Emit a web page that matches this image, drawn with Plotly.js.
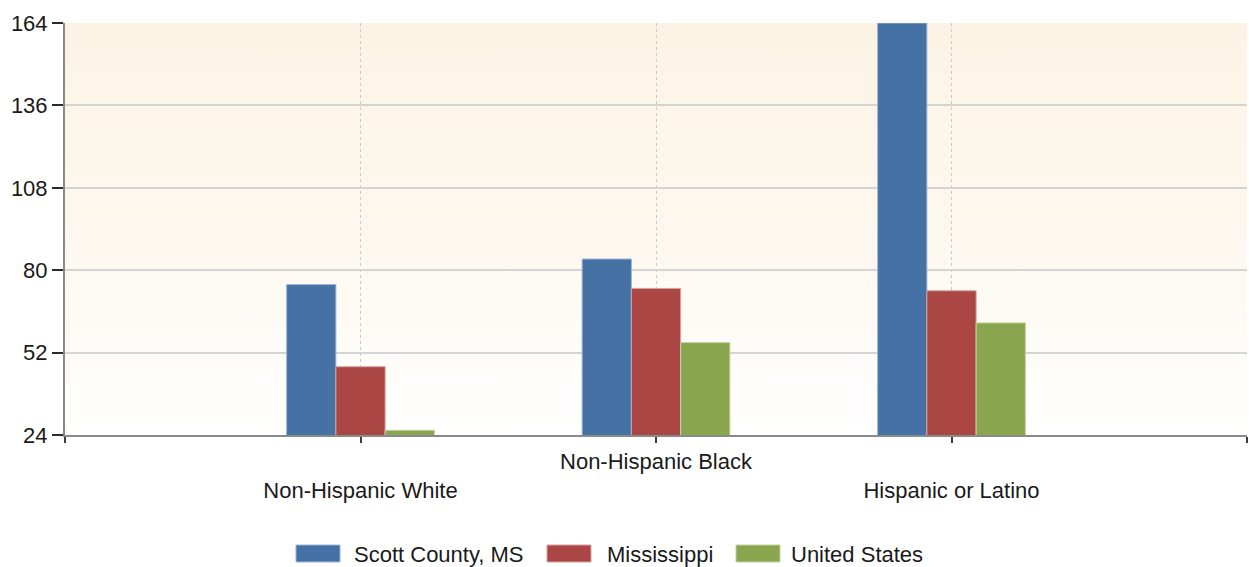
<!DOCTYPE html>
<html>
<head>
<meta charset="utf-8">
<script src="https://cdn.plot.ly/plotly-3.0.1.min.js"></script>
<style>
  html, body { margin: 0; padding: 0; background: #ffffff; }
  #wrap { position: relative; width: 1249px; height: 567px; }
  #bg { position: absolute; left: 65px; top: 23px; width: 1182px; height: 412px;
        background: linear-gradient(to bottom, #fcf3e4 0%, #fdf8ef 50%, #ffffff 100%); }
  #chart { position: absolute; left: 0; top: 0; width: 1249px; height: 567px; }
</style>
</head>
<body>
<div id="wrap"><div id="bg"></div><div id="chart"></div></div>
<script>
// Data
const categories = ["Non-Hispanic White", "Non-Hispanic Black", "Hispanic or Latino"];
const seriesNames = ["Scott County, MS", "Mississippi", "United States"];
const scottCounty = [75.1, 83.8, 164];
const mississippi = [47.2, 73.8, 73.0];
const unitedStates = [25.6, 55.4, 62.1];
const yTicks = [24, 52, 80, 108, 136, 164];

const colors = ["#4571a5", "#aa4643", "#89a54e"];
const edges = ["#9db4d2", "#d4a3a1", "#c4d2a6"];

// categories placed at positions 1..n on a numeric axis (staggered labels)
const xPos = categories.map((c, i) => i + 1);
const tickVals = [0].concat(xPos, [categories.length + 1]);
const tickText = [""].concat(categories.map((c, i) => (i % 2 === 0 ? "<br>" + c : c)), [""]);

const values = [scottCounty, mississippi, unitedStates];
const traces = values.map((v, k) => ({
  type: "bar",
  name: seriesNames[k],
  x: xPos,
  y: v,
  marker: { color: colors[k], line: { color: edges[k], width: 1 } },
  hoverinfo: "name+y",
  showlegend: false
}));

// custom legend (wide rectangular swatches like the reference)
const plotL = 65, plotR = 1247, plotT = 23, plotB = 435;
const px = v => (v - plotL) / (plotR - plotL);
const py = v => (plotB - v) / (plotB - plotT);
const legSwatchX = [296, 547, 736];
const legSwatchW = 44;
const legTextX = [352, 605, 789];
const legY0 = 545, legY1 = 562;

const shapes = seriesNames.map((n, k) => ({
  type: "rect", xref: "paper", yref: "paper",
  x0: px(legSwatchX[k]), x1: px(legSwatchX[k] + legSwatchW),
  y0: py(legY1), y1: py(legY0),
  fillcolor: colors[k], line: { color: edges[k], width: 1 }
}));
const font = "Liberation Sans, Arial, sans-serif";
const annotations = seriesNames.map((n, k) => ({
  xref: "paper", yref: "paper",
  x: px(legTextX[k]), y: py((legY0 + legY1) / 2 + 1),
  xanchor: "left", yanchor: "middle",
  text: n, showarrow: false,
  font: { family: font, size: 22, color: "#1a1a1a" }
}));

const layout = {
  width: 1249, height: 567,
  margin: { l: 65, r: 2, t: 23, b: 132 },
  paper_bgcolor: "rgba(0,0,0,0)",
  plot_bgcolor: "rgba(0,0,0,0)",
  barmode: "group",
  bargap: 0.5,
  bargroupgap: 0,
  font: { family: font, size: 22, color: "#1a1a1a" },
  xaxis: {
    type: "linear",
    range: [0, categories.length + 1],
    tickmode: "array",
    tickvals: tickVals,
    ticktext: tickText,
    ticks: "outside", ticklen: 6, tickwidth: 2, tickcolor: "#3a3a3a",
    showline: true, linecolor: "#8a8a8a", linewidth: 2,
    showgrid: true, gridcolor: "#c9c9c9", gridwidth: 1, griddash: "dot",
    zeroline: false,
    tickfont: { family: font, size: 22, color: "#1a1a1a" },
    ticklabelstandoff: 0,
    fixedrange: true
  },
  yaxis: {
    range: [24, 164],
    tickmode: "array",
    tickvals: yTicks,
    ticks: "outside", ticklen: 11, tickwidth: 2, tickcolor: "#2a2a2a",
    showline: true, linecolor: "#8a8a8a", linewidth: 2,
    showgrid: true, gridcolor: "#d4d4d4", gridwidth: 2,
    zeroline: false,
    tickfont: { family: font, size: 22, color: "#1a1a1a" },
    ticklabelstandoff: 0,
    fixedrange: true
  },
  showlegend: false,
  shapes: shapes,
  annotations: annotations
};

Plotly.newPlot("chart", traces, layout, { displayModeBar: false, staticPlot: true });
</script>
</body>
</html>
